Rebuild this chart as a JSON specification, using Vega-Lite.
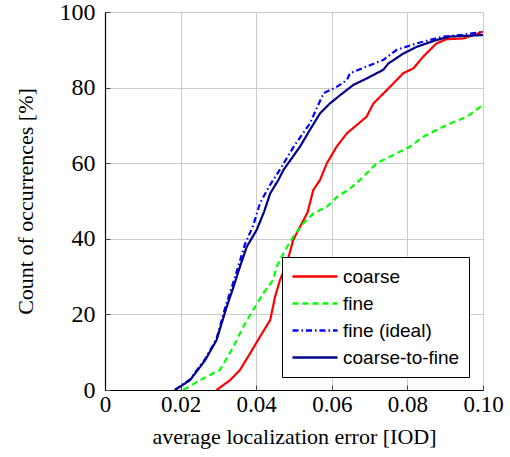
{
  "$schema": "https://vega.github.io/schema/vega-lite/v6.json",
  "width": 378,
  "height": 378,
  "autosize": "none",
  "padding": {"left": 105, "top": 12, "right": 27, "bottom": 67},
  "background": "white",
  "config": {"view": {"stroke": null}},
  "data": {"values": [
    {"s": "coarse", "x": 0.0295, "y": 0},
    {"s": "coarse", "x": 0.0331, "y": 2.6},
    {"s": "coarse", "x": 0.0357, "y": 5.3},
    {"s": "coarse", "x": 0.0384, "y": 9.7},
    {"s": "coarse", "x": 0.041, "y": 14.1},
    {"s": "coarse", "x": 0.0437, "y": 18.5},
    {"s": "coarse", "x": 0.045, "y": 24.7},
    {"s": "coarse", "x": 0.0463, "y": 29.1},
    {"s": "coarse", "x": 0.0481, "y": 33.5},
    {"s": "coarse", "x": 0.0498, "y": 39.7},
    {"s": "coarse", "x": 0.0516, "y": 43.2},
    {"s": "coarse", "x": 0.0536, "y": 47.0},
    {"s": "coarse", "x": 0.0551, "y": 52.9},
    {"s": "coarse", "x": 0.0569, "y": 55.6},
    {"s": "coarse", "x": 0.0587, "y": 60},
    {"s": "coarse", "x": 0.0613, "y": 64.4},
    {"s": "coarse", "x": 0.064, "y": 67.9},
    {"s": "coarse", "x": 0.0692, "y": 72.3},
    {"s": "coarse", "x": 0.071, "y": 75.8},
    {"s": "coarse", "x": 0.0754, "y": 80.2},
    {"s": "coarse", "x": 0.0789, "y": 83.8},
    {"s": "coarse", "x": 0.0816, "y": 85.1},
    {"s": "coarse", "x": 0.0842, "y": 88.2},
    {"s": "coarse", "x": 0.0877, "y": 91.7},
    {"s": "coarse", "x": 0.0904, "y": 92.8},
    {"s": "coarse", "x": 0.0948, "y": 93.0},
    {"s": "coarse", "x": 0.1, "y": 94.8},
    {"s": "fine", "x": 0.0207, "y": 0},
    {"s": "fine", "x": 0.0251, "y": 2.6},
    {"s": "fine", "x": 0.0304, "y": 5.3},
    {"s": "fine", "x": 0.034, "y": 11.5},
    {"s": "fine", "x": 0.0366, "y": 16.8},
    {"s": "fine", "x": 0.0392, "y": 21.2},
    {"s": "fine", "x": 0.0419, "y": 25.6},
    {"s": "fine", "x": 0.0445, "y": 29.1},
    {"s": "fine", "x": 0.0454, "y": 32.6},
    {"s": "fine", "x": 0.0472, "y": 36.2},
    {"s": "fine", "x": 0.0498, "y": 40.6},
    {"s": "fine", "x": 0.0525, "y": 44.1},
    {"s": "fine", "x": 0.0551, "y": 46.7},
    {"s": "fine", "x": 0.0587, "y": 48.5},
    {"s": "fine", "x": 0.0613, "y": 51.0},
    {"s": "fine", "x": 0.0648, "y": 53.3},
    {"s": "fine", "x": 0.0675, "y": 55.6},
    {"s": "fine", "x": 0.0719, "y": 60},
    {"s": "fine", "x": 0.0807, "y": 64.4},
    {"s": "fine", "x": 0.0842, "y": 67},
    {"s": "fine", "x": 0.0877, "y": 68.8},
    {"s": "fine", "x": 0.0913, "y": 70.5},
    {"s": "fine", "x": 0.0957, "y": 72.3},
    {"s": "fine", "x": 0.1, "y": 75.4},
    {"s": "fine (ideal)", "x": 0.0185, "y": 0},
    {"s": "fine (ideal)", "x": 0.0225, "y": 2.8},
    {"s": "fine (ideal)", "x": 0.0265, "y": 8.2},
    {"s": "fine (ideal)", "x": 0.0295, "y": 13.5},
    {"s": "fine (ideal)", "x": 0.032, "y": 22.5},
    {"s": "fine (ideal)", "x": 0.0338, "y": 28},
    {"s": "fine (ideal)", "x": 0.0355, "y": 33.5},
    {"s": "fine (ideal)", "x": 0.037, "y": 38.5},
    {"s": "fine (ideal)", "x": 0.0392, "y": 43.5},
    {"s": "fine (ideal)", "x": 0.041, "y": 49.4},
    {"s": "fine (ideal)", "x": 0.0435, "y": 54},
    {"s": "fine (ideal)", "x": 0.0467, "y": 59},
    {"s": "fine (ideal)", "x": 0.05, "y": 64.5},
    {"s": "fine (ideal)", "x": 0.0542, "y": 70.5},
    {"s": "fine (ideal)", "x": 0.0578, "y": 78.5},
    {"s": "fine (ideal)", "x": 0.0613, "y": 80.2},
    {"s": "fine (ideal)", "x": 0.064, "y": 82},
    {"s": "fine (ideal)", "x": 0.0648, "y": 83.8},
    {"s": "fine (ideal)", "x": 0.069, "y": 85.5},
    {"s": "fine (ideal)", "x": 0.0736, "y": 87.3},
    {"s": "fine (ideal)", "x": 0.0772, "y": 90},
    {"s": "fine (ideal)", "x": 0.0825, "y": 91.7},
    {"s": "fine (ideal)", "x": 0.0895, "y": 93.5},
    {"s": "fine (ideal)", "x": 0.095, "y": 94},
    {"s": "fine (ideal)", "x": 0.1, "y": 94.8},
    {"s": "coarse-to-fine", "x": 0.0185, "y": 0},
    {"s": "coarse-to-fine", "x": 0.0225, "y": 2.6},
    {"s": "coarse-to-fine", "x": 0.0265, "y": 7.9},
    {"s": "coarse-to-fine", "x": 0.0295, "y": 13.2},
    {"s": "coarse-to-fine", "x": 0.0322, "y": 22},
    {"s": "coarse-to-fine", "x": 0.034, "y": 27.3},
    {"s": "coarse-to-fine", "x": 0.0357, "y": 32.6},
    {"s": "coarse-to-fine", "x": 0.0375, "y": 37.9},
    {"s": "coarse-to-fine", "x": 0.0401, "y": 42.3},
    {"s": "coarse-to-fine", "x": 0.0421, "y": 47.2},
    {"s": "coarse-to-fine", "x": 0.0437, "y": 52},
    {"s": "coarse-to-fine", "x": 0.0459, "y": 55.6},
    {"s": "coarse-to-fine", "x": 0.0472, "y": 58.2},
    {"s": "coarse-to-fine", "x": 0.0516, "y": 64.4},
    {"s": "coarse-to-fine", "x": 0.0542, "y": 68.8},
    {"s": "coarse-to-fine", "x": 0.0569, "y": 73.2},
    {"s": "coarse-to-fine", "x": 0.0595, "y": 75.8},
    {"s": "coarse-to-fine", "x": 0.0622, "y": 78},
    {"s": "coarse-to-fine", "x": 0.0657, "y": 80.7},
    {"s": "coarse-to-fine", "x": 0.0692, "y": 82.4},
    {"s": "coarse-to-fine", "x": 0.0736, "y": 84.7},
    {"s": "coarse-to-fine", "x": 0.075, "y": 86.4},
    {"s": "coarse-to-fine", "x": 0.0789, "y": 89},
    {"s": "coarse-to-fine", "x": 0.0825, "y": 90.8},
    {"s": "coarse-to-fine", "x": 0.0877, "y": 92.6},
    {"s": "coarse-to-fine", "x": 0.0913, "y": 93.5},
    {"s": "coarse-to-fine", "x": 0.1, "y": 93.9}
  ]},
  "mark": {"type": "line", "strokeWidth": 2.2, "clip": true},
  "encoding": {
    "x": {
      "field": "x", "type": "quantitative",
      "scale": {"domain": [0, 0.1], "nice": false},
      "axis": {
        "values": [0, 0.02, 0.04, 0.06, 0.08, 0.1],
        "labelExpr": "datum.value == 0 ? '0' : format(datum.value, '.2f')",
        "labelFlush": false, "labelOverlap": false,
        "title": "average localization error [IOD]",
        "titleFont": "Liberation Serif", "titleFontSize": 22, "titleFontWeight": "normal", "titleColor": "black",
        "titlePadding": 10,
        "labelFont": "Liberation Serif", "labelFontSize": 23, "labelColor": "black",
        "labelPadding": 8,
        "domainColor": "black", "domainWidth": 1.2,
        "grid": true, "gridColor": "#cccccc", "gridWidth": 1,
        "ticks": true, "tickSize": -5, "tickColor": "#444444"
      }
    },
    "y": {
      "field": "y", "type": "quantitative",
      "scale": {"domain": [0, 100], "nice": false},
      "axis": {
        "values": [0, 20, 40, 60, 80, 100],
        "labelFlush": false, "labelOverlap": false,
        "title": "Count of occurrences [%]",
        "titleFont": "Liberation Serif", "titleFontSize": 22, "titleFontWeight": "normal", "titleColor": "black",
        "titlePadding": 22,
        "labelFont": "Liberation Serif", "labelFontSize": 24, "labelColor": "black",
        "labelPadding": 15,
        "domainColor": "black", "domainWidth": 1.2,
        "grid": true, "gridColor": "#cccccc", "gridWidth": 1,
        "ticks": true, "tickSize": -5, "tickColor": "#444444"
      }
    },
    "color": {
      "field": "s", "type": "nominal", "title": null,
      "scale": {"domain": ["coarse", "fine", "fine (ideal)", "coarse-to-fine"], "range": ["#ff0000", "#00ff00", "#0000ff", "#00008b"]},
      "legend": {
        "orient": "none", "legendX": 177, "legendY": 245,
        "fillColor": "white", "strokeColor": "black", "padding": 9,
        "symbolType": "M-1,0H4", "symbolSize": 324, "symbolStrokeWidth": 2.5, "symbolFillColor": "transparent",
        "labelFont": "Liberation Sans", "labelFontSize": 19, "labelColor": "black",
        "rowPadding": 6, "labelOffset": 31, "offset": 0
      }
    },
    "strokeDash": {
      "field": "s", "type": "nominal", "title": null,
      "scale": {"domain": ["coarse", "fine", "fine (ideal)", "coarse-to-fine"], "range": [[1, 0], [6, 4], [6, 3, 1.5, 3], [1, 0]]}
    },
    "detail": {"field": "s"}
  }
}
